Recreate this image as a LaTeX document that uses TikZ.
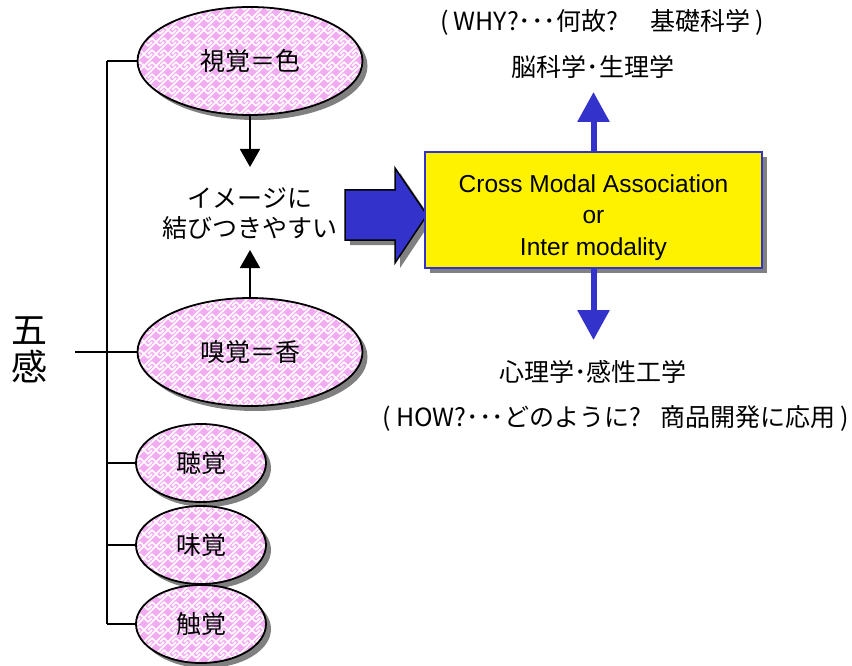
\documentclass[tikz,border=0pt]{standalone}
\usepackage{fontspec}
\setmainfont{Liberation Sans}
\newfontfamily\jp{Noto Sans CJK JP}
\usetikzlibrary{shapes.geometric,shadows,arrows.meta,patterns}
\definecolor{bblue}{RGB}{51,51,204}
\definecolor{pinkbg}{RGB}{242,172,242}
\definecolor{shgray}{RGB}{128,128,128}
\pgfdeclarepatternformonly{fret}{\pgfqpoint{-1pt}{-1pt}}{\pgfqpoint{13pt}{13pt}}{\pgfqpoint{12pt}{12pt}}{%
  \pgfsetlinewidth{1.6pt}%
  \pgfpathmoveto{\pgfqpoint{0pt}{0pt}}\pgfpathlineto{\pgfqpoint{12pt}{12pt}}%
  \pgfpathmoveto{\pgfqpoint{0pt}{12pt}}\pgfpathlineto{\pgfqpoint{4pt}{8pt}}%
  \pgfpathmoveto{\pgfqpoint{8pt}{4pt}}\pgfpathlineto{\pgfqpoint{12pt}{0pt}}%
  \pgfpathmoveto{\pgfqpoint{4pt}{8pt}}\pgfpathlineto{\pgfqpoint{8pt}{12pt}}%
  \pgfpathmoveto{\pgfqpoint{8pt}{4pt}}\pgfpathlineto{\pgfqpoint{4pt}{0pt}}%
  \pgfusepath{stroke}}
\begin{document}
\begin{tikzpicture}[x=1pt,y=-1pt,
  shd/.style={drop shadow={shadow xshift=5pt,shadow yshift=-5pt,fill=shgray,opacity=1}},
  sense/.style={ellipse,shd,preaction={fill=pinkbg},pattern=fret,pattern color=white,
    draw=black,line width=1.8pt,inner sep=0pt,font=\jp\fontsize{25}{30}\selectfont},
  big/.style={sense,minimum width=225pt,minimum height=108pt},
  small/.style={sense,minimum width=130pt,minimum height=78pt},
  lbl/.style={font=\jp\fontsize{25}{30}\selectfont,inner sep=0pt},
  blk/.style={line width=1.8pt,-{Triangle[width=20pt,length=18pt]}},
  barrow/.style={draw=bblue,line width=6pt,-{Triangle[width=31pt,length=30pt]}},
  tree/.style={line width=1.8pt}]
\useasboundingbox (0,0) rectangle (852,666);

% senses
\node[big] (see) at (250,61) {視覚＝色};
\node[big] (smell) at (250,352) {嗅覚＝香};
\node[small] (hear) at (201,463) {聴覚};
\node[small] (taste) at (201,545) {味覚};
\node[small] (touch) at (201,624) {触覚};

% gokan
\node[font=\jp\fontsize{36}{37}\selectfont,align=center,inner sep=0pt] (gokan) at (30,350) {五\\感};

% tree
\coordinate (spine) at (107,0);
\coordinate (tk) at (75,352);
\draw[tree] (see.west -| spine) -- (touch.west -| spine);
\draw[tree] (see.west -| spine) -- (see.west);
\draw[tree] (tk) -- (smell.west);
\draw[tree] (hear.west -| spine) -- (hear.west);
\draw[tree] (taste.west -| spine) -- (taste.west);
\draw[tree] (touch.west -| spine) -- (touch.west);

% image text
\node[font=\jp\fontsize{25}{30}\selectfont,align=center,inner sep=0pt] (img) at (250,214) {イメージに\\結びつきやすい};
\coordinate (t1) at (250,167);
\coordinate (t2) at (250,250);
\draw[blk] (see.south) -- (t1);
\draw[blk] (smell.north) -- (t2);

% block arrow
\draw[line width=1.5pt,fill=bblue,shd] (345,190) -- (395,190) -- (395,168) -- (427,215) -- (395,263) -- (395,240) -- (345,240) -- cycle;

% box
\node[draw=bblue,line width=1.5pt,fill=yellow,shd,minimum width=337pt,minimum height=116pt,
  align=center,font=\fontsize{24.5}{31.5}\selectfont] (cma) at (593.5,210)
  {\rule{0pt}{33pt}Cross Modal Association\\or\\Inter modality};

% blue arrows
\coordinate (up) at (593.5,92);
\coordinate (dn) at (593.5,340);
\draw[barrow] (cma.north) -- (up);
\draw[barrow] (cma.south) -- (dn);

% labels
\node[lbl] (why) at (602,22) {(\hspace{5pt}WHY?･･･何故?\hspace{32pt}基礎科学\hspace{5pt})};
\node[lbl] (brain) at (593,67) {脳科学･生理学};
\node[lbl] (psy) at (593,372) {心理学･感性工学};
\node[lbl] (how) at (616,418) {(\hspace{5pt}HOW?･･･どのように?\hspace{20pt}商品開発に応用\hspace{5pt})};
\end{tikzpicture}
\end{document}
